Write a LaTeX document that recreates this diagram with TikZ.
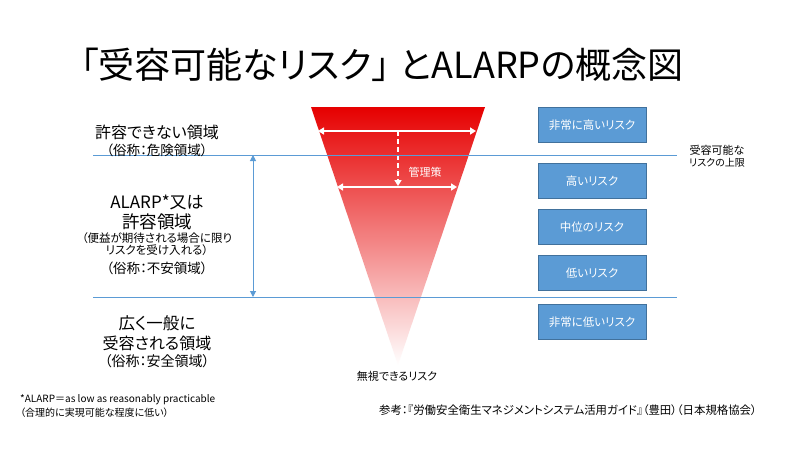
\documentclass[tikz,border=0pt]{standalone}
\usepackage{fontspec}
\setmainfont[CharacterWidth=AlternateProportional]{Noto Sans CJK JP}
\usetikzlibrary{arrows.meta}
\definecolor{lineblue}{RGB}{91,155,213}
\definecolor{boxblue}{RGB}{91,155,213}
\definecolor{boxedge}{RGB}{65,113,156}
\definecolor{funred}{RGB}{230,0,0}
\definecolor{funmid}{RGB}{236,70,70}
\newcommand{\fs}[1]{\fontsize{#1}{#1}\selectfont}
\tikzset{
  riskbox/.style={rectangle, fill=boxblue, draw=boxedge, line width=0.8,
    minimum width=108, minimum height=35, text=white, font=\fs{11.5}, inner sep=0},
  zoneline/.style={draw=lineblue, line width=1},
  whitearrow/.style={draw=white, line width=1.6, {Triangle[length=6,width=7]}-{Triangle[length=6,width=7]}},
  dasharrow/.style={draw=white, line width=1.6, dash pattern=on 5 off 3, -{Triangle[length=6,width=7]}},
  zonetext/.style={align=center, inner sep=0},
}
\begin{document}
\begin{tikzpicture}[x=1pt,y=-1pt]
\useasboundingbox[fill=white] (0,0) rectangle (800,450);

% title
\node[inner sep=0] (title) at (382,65) {\fs{36}「受容可能なリスク」\hspace{10pt}とALARPの概念図};

% funnel
\coordinate (fl) at (311,107);
\coordinate (fr) at (485,107);
\coordinate (ft) at (398,365);
\shade[top color=funred, middle color=funmid, bottom color=white] (fl) -- (fr) -- (ft) -- cycle;

\coordinate (a1l) at (318,131);
\coordinate (a1r) at (476,131);
\coordinate (a1m) at (398,131);
\coordinate (a2l) at (337,187);
\coordinate (a2r) at (457,187);
\coordinate (a2m) at (398,186);
\draw[whitearrow] (a1l) -- (a1r);
\draw[dasharrow] (a1m) -- (a2m);
\draw[whitearrow] (a2l) -- (a2r);
\node[text=white, inner sep=0] (kanri) at (425,172) {\fs{11}管理策};

% zone lines
\coordinate (l1a) at (93,155);
\coordinate (l1b) at (677,155);
\coordinate (l2a) at (93,297);
\coordinate (l2b) at (677,297);
\draw[zoneline] (l1a) -- (l1b);
\draw[zoneline] (l2a) -- (l2b);
\coordinate (va) at (253,155);
\coordinate (vb) at (253,297);
\draw[draw=lineblue, line width=1, {Triangle[length=6,width=6]}-{Triangle[length=6,width=6]}] (va) -- (vb);

% left texts
\node[zonetext] (z1a) at (157,132) {\fs{16}許容できない領域};
\node[zonetext] (z1b) at (157,150) {\fs{13.5}（俗称：危険領域）};

\node[zonetext] (z2a) at (157,202) {\fs{17}ALARP*又は};
\node[zonetext] (z2b) at (157,222) {\fs{17.5}許容領域};
\node[zonetext] (z2c) at (157,238) {\fs{11.5}（便益が期待される場合に限り};
\node[zonetext] (z2d) at (157,250) {\fs{11.5}リスクを受け入れる）};
\node[zonetext] (z2e) at (157,268) {\fs{13.5}（俗称：不安領域）};

\node[zonetext] (z3a) at (157,323) {\fs{16.5}広く一般に};
\node[zonetext] (z3b) at (157,343) {\fs{16}受容される領域};
\node[zonetext] (z3c) at (157,361) {\fs{14}（俗称：安全領域）};

\node[inner sep=0, anchor=west] (fn1) at (20,400) {\fs{10}*ALARP＝as low as reasonably practicable};
\node[inner sep=0, anchor=west] (fn2) at (20,413) {\fs{10}（合理的に実現可能な程度に低い）};

\node[inner sep=0] (negl) at (397,376) {\fs{11}無視できるリスク};

% right boxes
\node[riskbox] (b1) at (592,125) {非常に高いリスク};
\node[riskbox] (b2) at (592,181) {高いリスク};
\node[riskbox] (b3) at (592,227) {中位のリスク};
\node[riskbox] (b4) at (592,273) {低いリスク};
\node[riskbox] (b5) at (592,322) {非常に低いリスク};

\node[align=center, inner sep=0] (upper) at (717,156) {\fontsize{11}{12.5}\selectfont 受容可能な\\リスクの上限};

\node[inner sep=0, anchor=east] (ref) at (757,410) {\fs{11.4}参考：『労働安全衛生マネジメントシステム活用ガイド』（豊田）（日本規格協会）};
\end{tikzpicture}
\end{document}
